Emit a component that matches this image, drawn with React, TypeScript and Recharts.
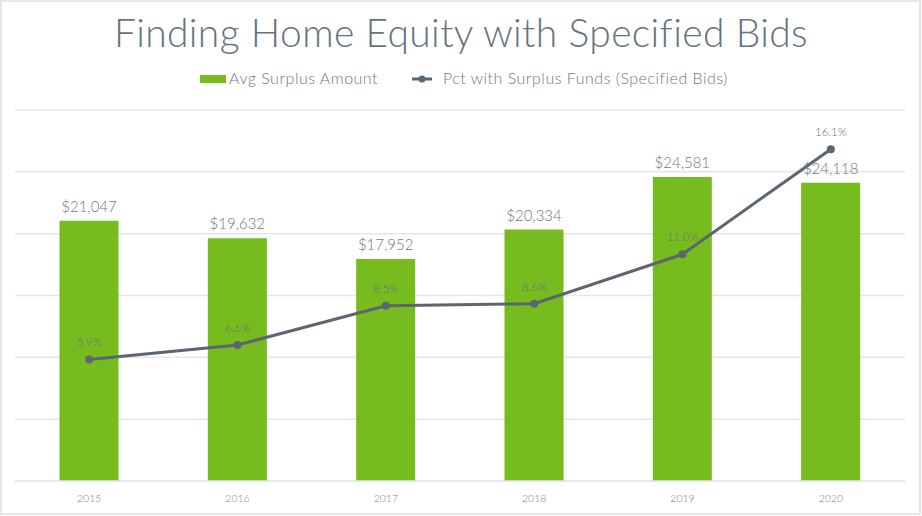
import React from 'react';
import { ComposedChart, Bar, Line, XAxis, YAxis, CartesianGrid, LabelList, Legend } from 'recharts';

const years = ['2015', '2016', '2017', '2018', '2019', '2020'];
const avgSurplus = [21047, 19632, 17952, 20334, 24581, 24118];
const pctSurplus = [5.9, 6.6, 8.5, 8.6, 11.0, 16.1];
const leftTicks = [0, 5000, 10000, 15000, 20000, 25000, 30000];
const rightTicks = [0, 3, 6, 9, 12, 15, 18];

const data = years.map((y, i) => ({ year: y, amount: avgSurplus[i], pct: pctSurplus[i] }));

const GREEN = '#77BC1F';
const LINE = '#5B6670';
const FONT = 'Lato, "Open Sans", sans-serif';

const LegendContent = () => (
  <div style={{ position: 'relative', height: 20, fontFamily: FONT, fontWeight: 300, fontSize: 16, letterSpacing: 0.5, color: '#6E7880' }}>
    <div style={{ position: 'absolute', left: 200, top: 7, width: 26, height: 8, background: GREEN }} />
    <div style={{ position: 'absolute', left: 229, top: 0 }}>Avg Surplus Amount</div>
    <svg style={{ position: 'absolute', left: 412, top: 5 }} width={20} height={12}>
      <line x1={0} y1={6} x2={20} y2={6} stroke={LINE} strokeWidth={3} />
      <circle cx={10} cy={6} r={3.5} fill={LINE} />
    </svg>
    <div style={{ position: 'absolute', left: 443, top: 0 }}>Pct with Surplus Funds (Specified Bids)</div>
  </div>
);

export default function App() {
  return (
    <div style={{ position: 'absolute', left: 0, top: 0, width: 922, height: 516, background: '#fff' }}>
      <div style={{ position: 'absolute', left: 0, top: 0, width: 921, height: 515, boxSizing: 'border-box', border: '2px solid #E3E7EA' }} />
      <div style={{ position: 'absolute', left: 0, top: 9, width: 922, textAlign: 'center', fontFamily: FONT, fontWeight: 300, fontSize: 39, color: '#66737C', letterSpacing: 0.35 }}>
        Finding Home Equity with Specified Bids
      </div>
      <div style={{ position: 'absolute', left: 0, top: 0 }}>
        <ComposedChart width={922} height={516} data={data} margin={{ top: 90, right: 17, bottom: 5, left: 15 }} barCategoryGap="30%">
          <CartesianGrid yAxisId="left" vertical={false} stroke="#E3E7EA" strokeWidth={1.5} />
          <XAxis dataKey="year" axisLine={{ stroke: '#E3E7EA', strokeWidth: 1.5 }} tickLine={false} height={30} tickMargin={8}
            tick={{ fontFamily: FONT, fontWeight: 300, fontSize: 10.5, fill: '#7A848C' }} />
          <YAxis yAxisId="left" hide domain={[0, 30000]} ticks={leftTicks} />
          <YAxis yAxisId="right" orientation="right" hide domain={[0, 18]} ticks={rightTicks} />
          <Legend verticalAlign="top" align="left" wrapperStyle={{ top: 68, left: 0, width: 922 }} content={<LegendContent />} />
          <Bar yAxisId="left" dataKey="amount" fill={GREEN} isAnimationActive={false}>
            <LabelList dataKey="amount" position="top" offset={9}
              formatter={(v: number) => '$' + v.toLocaleString('en-US')}
              style={{ fontFamily: FONT, fontWeight: 300, fontSize: 15, fill: '#6E7880' }} />
          </Bar>
          <Line yAxisId="right" dataKey="pct" stroke={LINE} strokeWidth={3} dot={{ r: 4, fill: LINE, stroke: LINE, strokeWidth: 0 }} isAnimationActive={false}>
            <LabelList dataKey="pct" position="top" offset={13}
              formatter={(v: number) => v.toFixed(1) + '%'}
              style={{ fontFamily: FONT, fontWeight: 300, fontSize: 11.5, fill: '#66727A' }} />
          </Line>
        </ComposedChart>
      </div>
    </div>
  );
}
